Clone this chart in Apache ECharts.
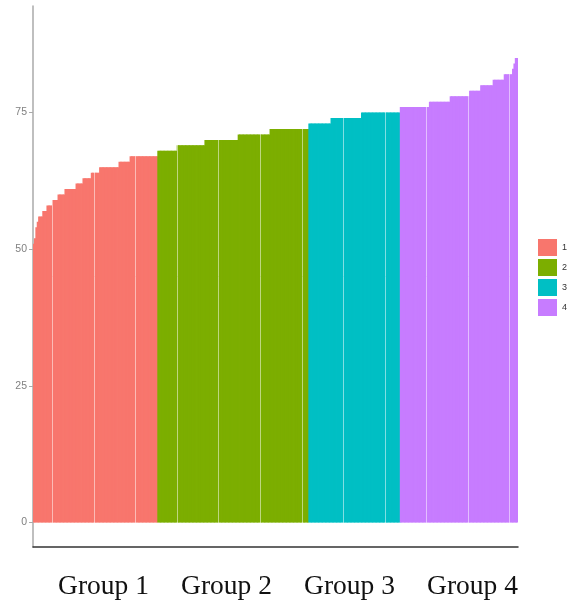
<!DOCTYPE html>
<html>
<head>
<meta charset="utf-8">
<script src="https://cdn.jsdelivr.net/npm/echarts@6/dist/echarts.min.js"></script>
<style>
  html, body { margin: 0; padding: 0; background: #fff; }
  #chart { width: 581px; height: 600px; }
</style>
</head>
<body>
<div id="chart"></div>
<script>
// sorted values per group, stored as (level, how many bars at that level)
const levels1 = [51, 52, 54, 55, 56, 57, 58, 59, 60, 61, 62, 63, 64, 65, 66, 67];
const counts1 = [1, 1, 1, 1, 3, 3, 4, 4, 5, 8, 5, 6, 6, 14, 8, 20];
const levels2 = [68, 69, 70, 71, 72];
const counts2 = [14, 20, 24, 23, 28];
const levels3 = [73, 74, 75];
const counts3 = [16, 22, 28];
const levels4 = [76, 77, 78, 79, 80, 81, 82, 83, 84, 85];
const counts4 = [21, 15, 14, 8, 9, 8, 6, 1, 1, 2];

const groupNames = ['1', '2', '3', '4'];
const groupLabels = ['Group 1', 'Group 2', 'Group 3', 'Group 4'];
const yTicks = [0, 25, 50, 75];
const colors = ['#F8766D', '#7CAE00', '#00BFC4', '#C77CFF'];

// 展开成逐条的值
function expand(levels, counts) {
    let out = [];
    levels.forEach((v, i) => {
        for (let k = 0; k < counts[i]; k++) out.push(v);
    });
    return out;
}

const groups = [
    expand(levels1, counts1),
    expand(levels2, counts2),
    expand(levels3, counts3),
    expand(levels4, counts4)
];
const total = groups.reduce((s, g) => s + g.length, 0);
const categories = [];
for (let i = 0; i < total; i++) categories.push(String(i + 1));

// each series only fills its own stretch of the x axis
let offset = 0;
const series = groups.map((g, gi) => {
    let data = new Array(total).fill(null);
    g.forEach((v, k) => { data[offset + k] = v; });
    offset += g.length;
    return {
        name: groupNames[gi],
        type: 'bar',
        xAxisIndex: 0,
        yAxisIndex: 0,
        data: data,
        barGap: '-100%',
        // bars a bit wider than the band so neighbours overlap (no hairlines)
        barWidth: '160%',
        itemStyle: { color: colors[gi] },
        emphasis: { disabled: true }
    };
});

let chart = echarts.init(document.getElementById('chart'));
chart.setOption({
    animation: false,
    backgroundColor: '#fff',
    legend: {
        data: groupNames,
        orient: 'vertical',
        left: 533,
        top: 234,
        icon: 'rect',
        itemWidth: 19,
        itemHeight: 17,
        itemGap: 3,
        textStyle: { fontSize: 9, color: '#333', fontFamily: 'Liberation Sans' }
    },
    grid: [
        { left: 33, right: 63, top: 6, bottom: 53 },
        { left: 42, right: 47, top: 569, height: 1 }
    ],
    xAxis: [
        {
            type: 'category',
            gridIndex: 0,
            data: categories,
            z: 3,
            axisLine: { onZero: false, lineStyle: { color: '#333', width: 1.5 } },
            axisTick: {
                interval: (i) => i % 30 === 28,
                length: 3,
                lineStyle: { color: '#333', width: 1 }
            },
            axisLabel: { show: false },
            splitLine: {
                show: true,
                interval: (i) => i % 30 === 14,
                lineStyle: { color: 'rgba(255,255,255,0.5)', width: 1 }
            }
        },
        {
            type: 'category',
            gridIndex: 1,
            data: groupLabels,
            axisLine: { show: false },
            axisTick: { show: false },
            axisLabel: {
                margin: 4,
                fontSize: 27.5,
                color: '#111',
                fontFamily: 'Liberation Serif'
            }
        }
    ],
    yAxis: [
        {
            type: 'value',
            gridIndex: 0,
            min: -4.5,
            max: 94.5,
            axisLine: { show: true, lineStyle: { color: '#aaa', width: 1.5 } },
            axisTick: { show: true, customValues: yTicks, length: 4, lineStyle: { color: '#aaa' } },
            axisLabel: {
                customValues: yTicks,
                fontSize: 10.5,
                color: '#808080',
                margin: 6,
                fontFamily: 'Liberation Sans'
            },
            splitLine: { show: false }
        },
        { type: 'value', gridIndex: 1, show: false }
    ],
    series: series
});
</script>
</body>
</html>
